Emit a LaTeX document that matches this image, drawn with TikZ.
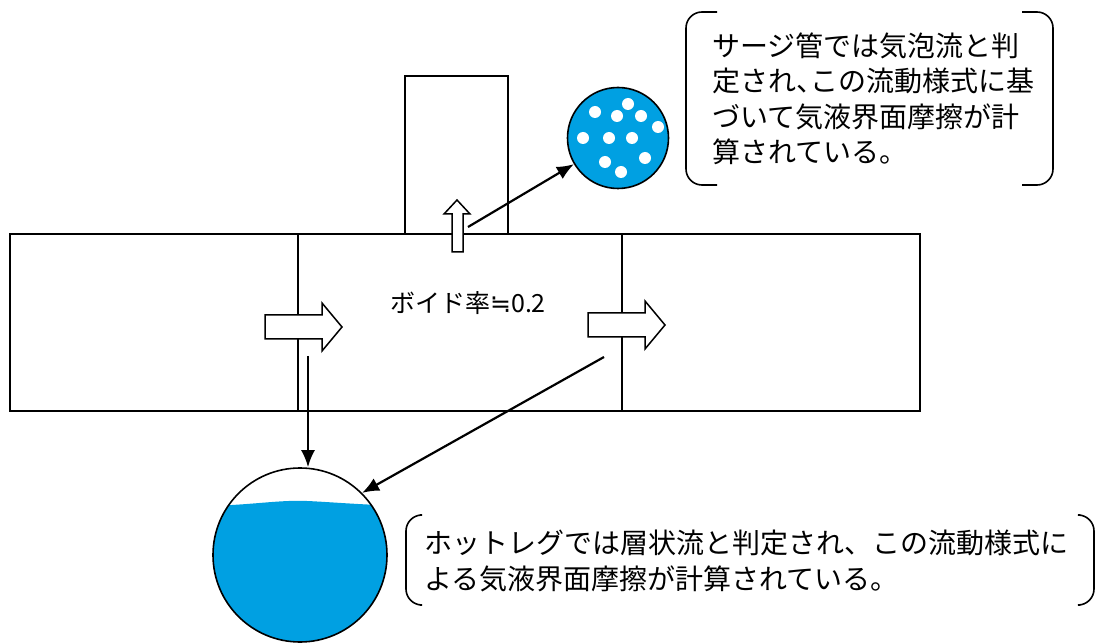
\documentclass[tikz,border=0pt]{standalone}
\usepackage{fontspec}
\setmainfont{Noto Sans CJK JP}
\newfontfamily\symfont{DejaVu Sans}
\usetikzlibrary{arrows.meta}
\definecolor{water}{RGB}{0,160,226}
\newcommand\halfcomma{\makebox[14pt][l]{、}}
\tikzset{
  pipe/.style={draw, line width=1.4pt},
  hollow/.style={draw, fill=white, line width=1.5pt, line join=miter},
  link/.style={-{Latex[length=17pt,width=14pt]}, line width=2.2pt},
  bracket/.style={draw, line width=1.6pt, rounded corners=16pt},
  dot/.style={circle, fill=white, inner sep=0pt, minimum size=12pt},
  note/.style={anchor=west, align=left, inner sep=0pt, font=\fontsize{28}{35.5}\selectfont}
}
\begin{document}
\begin{tikzpicture}[x=1pt, y=-1pt]
  \useasboundingbox (0,0) rectangle (1104,644);

  % hot leg and surge line
  \draw[pipe] (10,234) rectangle (920,411);
  \draw[pipe] (298,234) -- (298,411);
  \draw[pipe] (622,234) -- (622,411);
  \draw[pipe] (405,234) -- (405,76) -- (508,76) -- (508,234);

  % flow arrows
  \draw[hollow] (265,315) -- (322,315) -- (322,303) -- (342,327) -- (322,351) -- (322,339) -- (265,339) -- cycle;
  \draw[hollow] (588,313) -- (645,313) -- (645,301) -- (665,325) -- (645,349) -- (645,337) -- (588,337) -- cycle;
  \draw[hollow] (452,252) -- (452,214) -- (444,214) -- (457,200) -- (470,214) -- (463,214) -- (463,252) -- cycle;

  \node[font=\fontsize{25}{30}\selectfont] (void) at (468,303) {ボイド率{\symfont ≒}0.2};

  % bubbly flow
  \node[circle, draw, line width=1.6pt, fill=water, minimum size=101pt, inner sep=0pt] (bubbly) at (618,138) {};
  \foreach \bx/\by in {595/112, 628/104, 617/116, 641/116, 658/127, 583/138,
                       609/138, 632/138, 605/162, 645/158, 621/172}
    \node[dot] at (\bx,\by) {};

  % stratified flow
  \begin{scope}
    \clip (300,555) circle (87);
    \fill[water] (200,506) -- (232,505) .. controls (265,503) and (285,500) .. (307,501)
      .. controls (330,502) and (350,504) .. (400,506) -- (400,660) -- (200,660) -- cycle;
  \end{scope}
  \node[circle, draw, line width=1.6pt, minimum size=174pt, inner sep=0pt] (strat) at (300,555) {};

  \coordinate (upstart) at (468,227);
  \coordinate (leftstart) at (308,356);
  \coordinate (rightstart) at (604,357);
  \draw[link] (upstart) -- (bubbly);
  \draw[link] (leftstart) -- (strat.north -| leftstart);
  \draw[link] (rightstart) -- (strat.north east);

  % notes
  \draw[bracket] (717,12) -- (686,12) -- (686,185) -- (717,185);
  \draw[bracket] (1022,12) -- (1053,12) -- (1053,185) -- (1022,185);
  \node[note] (surgenote) at (712,99)
    {サージ管では気泡流と判\\定され\halfcomma この流動様式に基\\づいて気液界面摩擦が計\\算されている。};

  \draw[bracket] (420,515) -- (406,515) -- (406,605) -- (420,605);
  \draw[bracket] (1080,515) -- (1094,515) -- (1094,605) -- (1080,605);
  \node[note] (hotnote) at (424,561)
    {ホットレグでは層状流と判定され、この流動様式に\\よる気液界面摩擦が計算されている。};
\end{tikzpicture}
\end{document}
